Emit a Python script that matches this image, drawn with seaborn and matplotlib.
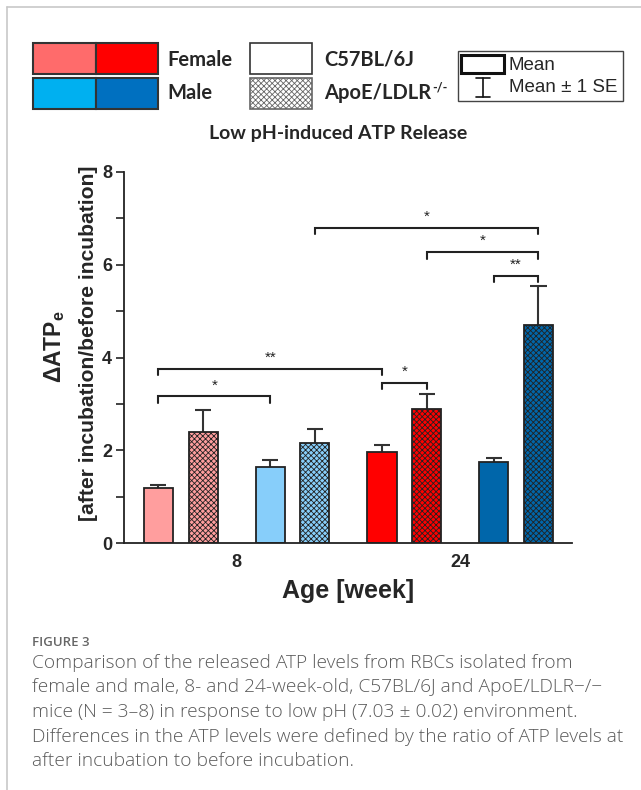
import matplotlib.pyplot as plt
import seaborn as sns
import pandas as pd
import numpy as np
from matplotlib.patches import Rectangle
from matplotlib.lines import Line2D

# Bar data (8 bars: age x sex x strain)
ages = ['8', '24']
bar_age = ['8', '8', '8', '8', '24', '24', '24', '24']
bar_sex = ['Female', 'Female', 'Male', 'Male', 'Female', 'Female', 'Male', 'Male']
bar_strain = ['C57BL/6J', 'ApoE/LDLR', 'C57BL/6J', 'ApoE/LDLR',
              'C57BL/6J', 'ApoE/LDLR', 'C57BL/6J', 'ApoE/LDLR']
means = [1.18, 2.40, 1.63, 2.16, 1.97, 2.88, 1.75, 4.70]
ses = [0.07, 0.46, 0.15, 0.30, 0.15, 0.33, 0.09, 0.85]
bar_colors = ['#ff9e9e', '#ff9e9e', '#87cefa', '#87cefa',
              '#ff0000', '#ff0000', '#0066aa', '#0066aa']

# significance brackets: (bar a, bar b, bracket height, label)
sig_pairs = [(0, 2, 3.16, '*'), (0, 4, 3.76, '**'), (4, 5, 3.45, '*'),
             (3, 7, 6.80, '*'), (5, 7, 6.27, '*'), (6, 7, 5.76, '**')]

legend_colors = ['#ff6b6b', '#ff0000', '#00b0f0', '#0070c0']

caption = ["Comparison of the released ATP levels from RBCs isolated from",
           "female and male, 8- and 24-week-old, C57BL/6J and ApoE/LDLR\u2212/\u2212",
           "mice (N = 3\u20138) in response to low pH (7.03 \u00b1 0.02) environment.",
           "Differences in the ATP levels were defined by the ratio of ATP levels at",
           "after incubation to before incubation."]

sns.set_style('ticks')
plt.rcParams['font.family'] = ['Liberation Sans', 'DejaVu Sans']
plt.rcParams['mathtext.fontset'] = 'custom'
plt.rcParams['mathtext.rm'] = 'Liberation Sans'
plt.rcParams['mathtext.bf'] = 'Liberation Sans:bold'
plt.rcParams['mathtext.it'] = 'Liberation Sans:italic'
plt.rcParams['hatch.linewidth'] = 0.6

W, H = 641, 790
def fx(x):
    return x / W
def fy(y):
    return 1 - y / H

# bar positions: 5 units per age group, 2.5 per sex pair, 1 per strain
pos = []
for i in range(len(means)):
    pos.append(5 * ages.index(bar_age[i]) + 2.5 * ((i // 2) % 2) + (i % 2))
labels = [f'{a}-{s}-{st}' for a, s, st in zip(bar_age, bar_sex, bar_strain)]
df = pd.DataFrame({'pos': pos, 'mean': means, 'se': ses, 'bar': labels})

fig = plt.figure(figsize=(W / 100, H / 100), dpi=100)
ax = fig.add_axes([fx(124), fy(543), fx(572) - fx(124), fy(172) - fy(543)])

# error bars (upper only) behind the bars
top = df['mean'] + df['se']
ax.vlines(df['pos'], df['mean'], top, color='#333333', lw=1.5, zorder=1)
ax.hlines(top, df['pos'] - 0.18, df['pos'] + 0.18, color='#333333', lw=1.5, zorder=1)

sns.barplot(data=df, x='pos', y='mean', hue='bar', hue_order=labels,
            palette=dict(zip(labels, bar_colors)), native_scale=True, dodge=False,
            saturation=1, width=0.65, edgecolor='#222222', linewidth=1.3,
            legend=False, ax=ax, zorder=2)
for patch, strain in zip(ax.patches, bar_strain):
    if strain != 'C57BL/6J':
        patch.set_hatch('xxxxxx')

# significance brackets
for a, b, h, lab in sig_pairs:
    xa, xb = pos[a], pos[b]
    ax.plot([xa, xa, xb, xb], [h - 0.14, h, h, h - 0.14], color='#222222', lw=1.5,
            clip_on=False, solid_joinstyle='miter')
    ax.text((xa + xb) / 2, h + 0.24, lab, ha='center', va='center', fontsize=11,
            color='#222222')

ax.set_xlim(-0.77, 9.25)
ax.set_ylim(0, 8)
ax.set_yticks([0, 2, 4, 6, 8])
ax.set_yticks([1, 3, 5, 7], minor=True)
age_centers = [np.mean([p for p, ag in zip(pos, bar_age) if ag == a]) for a in ages]
ax.set_xticks(age_centers)
ax.set_xticklabels(ages)
ax.tick_params(axis='x', length=0, labelsize=13, pad=8)
ax.tick_params(axis='y', which='both', direction='out', length=6, width=1.2,
               labelsize=13, color='#222222', pad=2.5)
for lab in ax.get_xticklabels() + ax.get_yticklabels():
    lab.set_fontweight('bold')
sns.despine(ax=ax)
for s in ['left', 'bottom']:
    ax.spines[s].set_linewidth(1.3)
    ax.spines[s].set_color('#222222')
ax.set_xlabel('Age [week]', fontsize=18, fontweight='bold', labelpad=6)
ax.set_ylabel('')

fig.text(fx(55), fy(347), r'$\mathbf{\Delta ATP_e}$', rotation=90, ha='center',
         va='center', fontsize=16.5)
fig.text(fx(89), fy(343), '[after incubation/before incubation]', rotation=90,
         ha='center', va='center', fontsize=15.2, fontweight='bold')

# legend drawn on the figure
def box(x0, y0, x1, y1, **kw):
    fig.add_artist(Rectangle((fx(x0), fy(y1)), fx(x1) - fx(x0), fy(y0) - fy(y1),
                             transform=fig.transFigure, **kw))

box(33, 43, 96, 74, facecolor=legend_colors[0], edgecolor='#333333', lw=1.5)
box(96, 43, 158, 74, facecolor=legend_colors[1], edgecolor='#333333', lw=1.5)
box(33, 78, 96, 109, facecolor=legend_colors[2], edgecolor='#333333', lw=1.5)
box(96, 78, 158, 109, facecolor=legend_colors[3], edgecolor='#333333', lw=1.5)
box(250, 43, 312, 74, facecolor='white', edgecolor='#333333', lw=1.2)
box(250, 78, 312, 109, facecolor='white', edgecolor='#666666', lw=1.2, hatch='xxxxxx')
fig.text(fx(167), fy(60), 'Female', fontsize=14.5, fontweight='bold', family='Lato',
         va='center')
fig.text(fx(167), fy(93), 'Male', fontsize=14.5, fontweight='bold', family='Lato',
         va='center')
fig.text(fx(324), fy(60), 'C57BL/6J', fontsize=14.5, fontweight='bold', family='Lato',
         va='center')
apoe = fig.text(fx(324), fy(93), 'ApoE/LDLR', fontsize=14.5, fontweight='bold',
                family='Lato', va='center')
ax.annotate('-/-', xy=(1.0, 0.78), xycoords=apoe, xytext=(1, 0),
            textcoords='offset points', ha='left', va='center', fontsize=9,
            fontweight='bold', family='Lato', annotation_clip=False)

box(458, 51, 623, 101, facecolor='white', edgecolor='#444444', lw=1.0)
box(461, 55, 504, 73, facecolor='white', edgecolor='#111111', lw=2.2)
fig.add_artist(Line2D([fx(483), fx(483)], [fy(78), fy(97)], color='#111111', lw=1.2))
fig.add_artist(Line2D([fx(476), fx(490)], [fy(78), fy(78)], color='#111111', lw=1.2))
fig.add_artist(Line2D([fx(476), fx(490)], [fy(97), fy(97)], color='#111111', lw=1.2))
fig.text(fx(509), fy(65), 'Mean', fontsize=13.5, va='center')
fig.text(fx(509), fy(88), 'Mean \u00b1 1 SE', fontsize=13.5, va='center')

fig.text(fx(338), fy(133), 'Low pH-induced ATP Release', fontsize=14,
         fontweight='bold', family='Lato', ha='center', va='center')

# page frame
fig.add_artist(Line2D([fx(7), fx(7)], [0, fy(7)], color='#c8c8c8', lw=1.2))
fig.add_artist(Line2D([fx(7), 1], [fy(7), fy(7)], color='#c8c8c8', lw=1.2))

# caption
fig.text(fx(32), fy(643), 'FIGURE 3', fontsize=9.5, color='#666666', family='Open Sans',
         fontweight='semibold', va='center')
for k, line in enumerate(caption):
    fig.text(fx(32), fy(663 + 24.5 * k), line, fontsize=13.8, color='#5a5a5a',
             family='Open Sans', fontweight='light', va='center')

plt.savefig('out.png', dpi=100)
